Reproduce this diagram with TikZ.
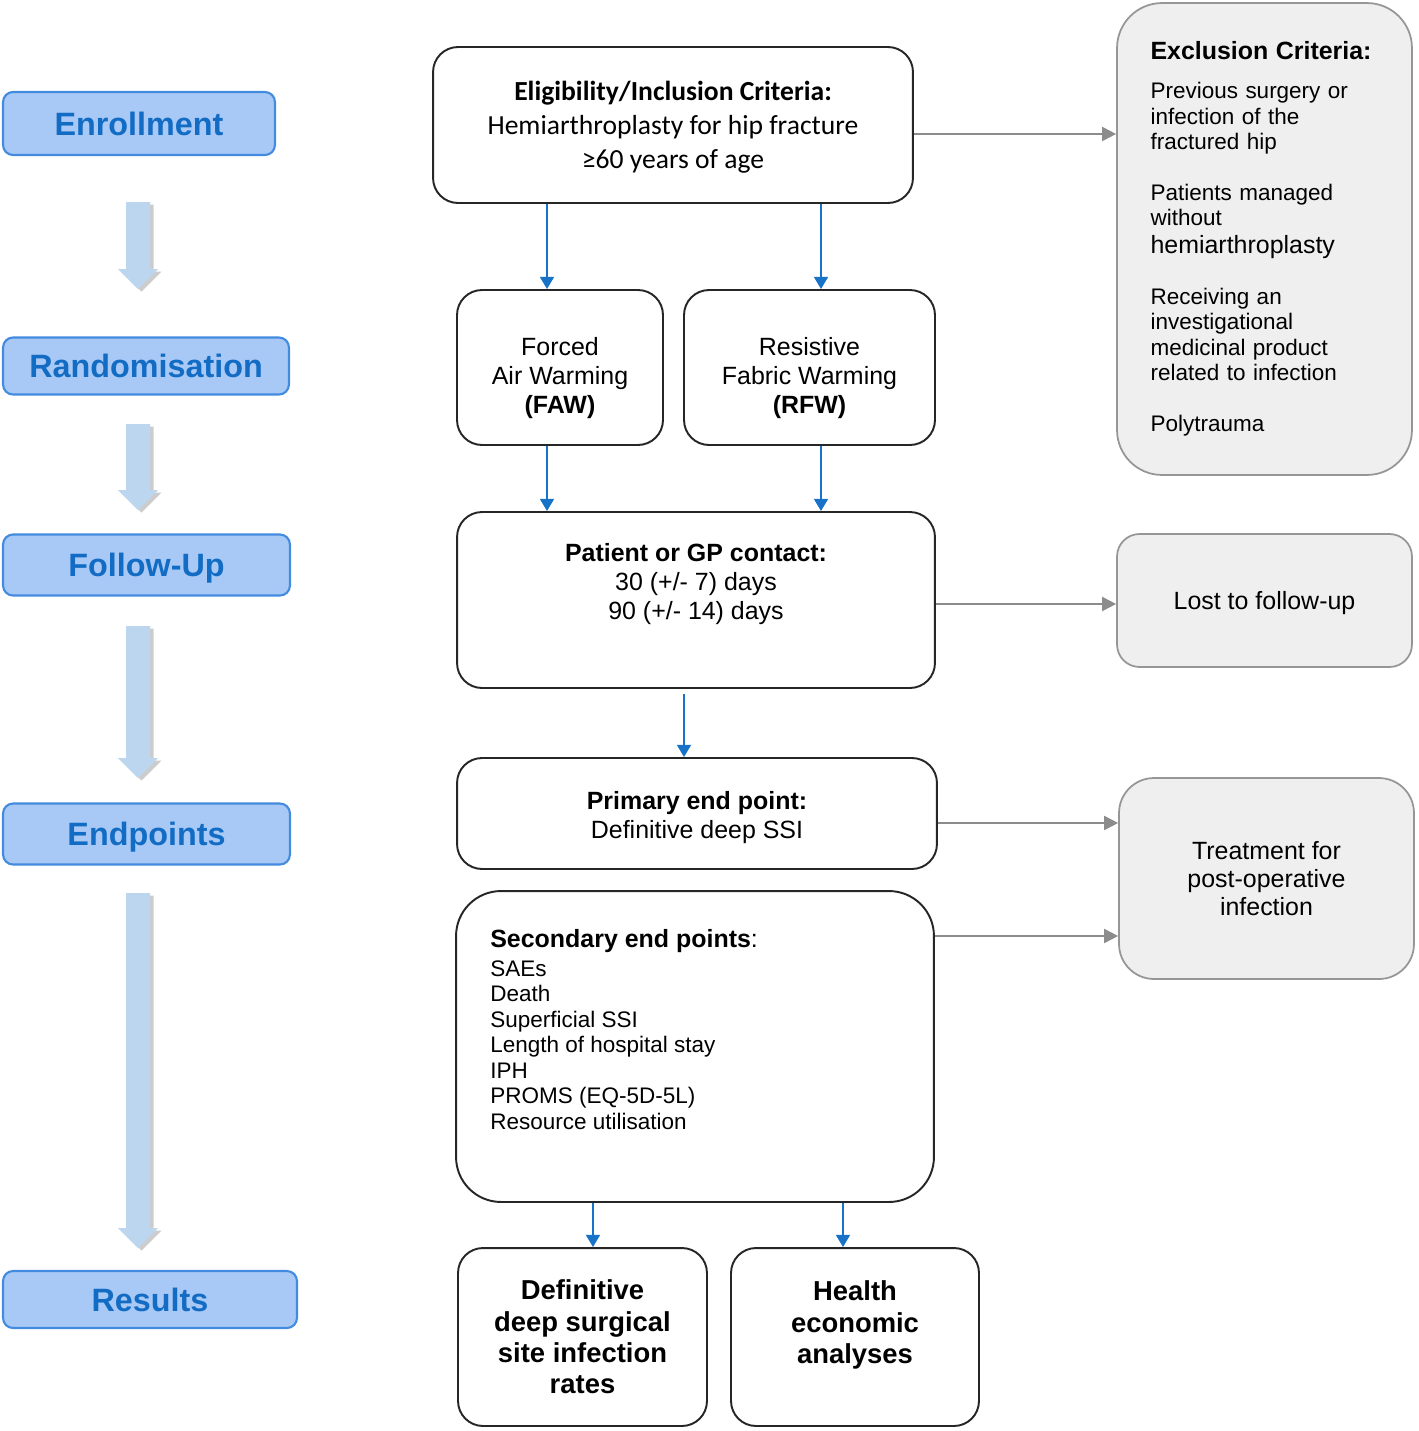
\documentclass[tikz,border=0pt]{standalone}
\usepackage{fontspec}
\setmainfont{Liberation Sans}
\newfontfamily\calib{Carlito}
\usetikzlibrary{arrows.meta,shadows}

\definecolor{stagefill}{RGB}{168,200,246}
\definecolor{stageline}{RGB}{66,139,222}
\definecolor{stagetext}{RGB}{18,108,196}
\definecolor{arrowblue}{RGB}{189,214,239}
\definecolor{flowblue}{RGB}{22,115,200}
\definecolor{greyfill}{RGB}{239,239,239}
\definecolor{greyline}{RGB}{150,150,150}
\definecolor{sidegrey}{RGB}{140,140,140}

\tikzset{
  stage/.style={draw=stageline, line width=1.2pt, fill=stagefill, rounded corners=0.2cm,
    inner sep=0pt, text height=13.2pt, text depth=0pt, text=stagetext,
    font=\fontsize{18.4}{22}\selectfont\bfseries},
  mainbox/.style={draw=black!85, line width=1.1pt, rounded corners=0.5cm, inner sep=0pt,
    align=center, font=\fontsize{14.2}{16.5}\selectfont},
  boxtext/.style={align=center, inner sep=0pt, font=\fontsize{14.2}{16.5}\selectfont},
  greybox/.style={draw=greyline, line width=1pt, fill=greyfill, inner sep=0pt,
    align=center, font=\fontsize{14.2}{16}\selectfont},
  flow/.style={draw=flowblue, line width=1.1pt, -{Triangle[width=8pt,length=7pt]}},
  side/.style={draw=sidegrey, line width=1.1pt, -{Triangle[width=8pt,length=8pt]}},
  downarrow/.style={fill=arrowblue, draw=none,
    drop shadow={shadow xshift=2pt, shadow yshift=-1.5pt, opacity=0.4}}
}

\begin{document}
\begin{tikzpicture}[x=0.02cm, y=-0.02cm]
\useasboundingbox (0,0) rectangle (1418,1431);

% stages on the left
\node[stage, minimum width=5.44cm, minimum height=1.26cm] (enrol) at (139,123.5) {Enrollment};
\node[stage, minimum width=5.72cm, minimum height=1.14cm] (rand) at (146,366) {Randomisation};
\node[stage, minimum width=5.74cm, minimum height=1.22cm] (follow) at (146.5,565) {Follow-Up};
\node[stage, minimum width=5.74cm, minimum height=1.22cm] (endp) at (146.5,834) {Endpoints};
\node[stage, minimum width=5.88cm, minimum height=1.14cm] (results) at (150,1299.5) {Results};

\foreach \top/\tip in {202/289, 424/510, 626/778, 893/1248} {
\path[downarrow] (126,\top) -- (150,\top) -- (150,\tip-20) -- (158,\tip-20)
  -- (138,\tip) -- (118,\tip-20) -- (126,\tip-20) -- cycle;
}

% middle column
\node[mainbox, minimum width=9.6cm, minimum height=3.12cm] (elig) at (673,125) {};
\node[boxtext, font=\calib\fontsize{15.7}{19.3}\selectfont] (eligtext) at (673,127)
  {\textbf{Eligibility/Inclusion Criteria:}\\Hemiarthroplasty for hip fracture\\≥60 years of age};
\node[mainbox, minimum width=4.12cm, minimum height=3.1cm] (faw) at (560,367.5) {};
\node[boxtext] (fawtext) at (560,378.5) {Forced\\Air Warming\\\textbf{(FAW)}};
\node[mainbox, minimum width=5.02cm, minimum height=3.1cm] (rfw) at (809.5,367.5) {};
\node[boxtext] (rfwtext) at (809.5,378.5) {Resistive\\Fabric Warming\\\textbf{(RFW)}};
\node[mainbox, minimum width=9.56cm, minimum height=3.52cm] (contact) at (696,600) {};
\node[boxtext] (contacttext) at (696,584)
  {\textbf{Patient or GP contact:}\\30 (+/- 7) days\\90 (+/- 14) days};
\node[mainbox, minimum width=9.6cm, minimum height=2.22cm] (primary) at (697,813.5) {};
\node[boxtext] (primarytext) at (697,818) {\textbf{Primary end point:}\\Definitive deep SSI};
\node[mainbox, rounded corners=0.9cm, minimum width=9.56cm, minimum height=6.22cm] (second) at (695,1046.5) {};
\node[anchor=north west, align=left, inner sep=0pt, font=\fontsize{12.8}{14.5}\selectfont] (sectext) at (490,929)
  {{\fontsize{14.2}{14.5}\selectfont\textbf{Secondary end points}:}\\[1.9pt]
   SAEs\\Death\\Superficial SSI\\Length of hospital stay\\IPH\\PROMS (EQ-5D-5L)\\Resource utilisation};
\node[mainbox, minimum width=4.98cm, minimum height=3.56cm,
  font=\fontsize{15.6}{17.9}\selectfont\bfseries] (ssi) at (582.5,1337)
  {Definitive\\deep surgical\\site infection\\rates};
\node[mainbox, minimum width=4.96cm, minimum height=3.56cm] (econ) at (855,1337) {};
\node[boxtext, font=\fontsize{15.6}{17.9}\selectfont\bfseries] (econtext) at (855,1325)
  {Health\\economic\\analyses};

% right column
\node[greybox, rounded corners=0.9cm, minimum width=5.9cm, minimum height=9.44cm,
  align=left, text width=4.56cm, font=\fontsize{12.8}{14.5}\selectfont] (excl) at (1264.5,239)
  {{\fontsize{14.2}{14.5}\selectfont\bfseries Exclusion Criteria:}\\[7.6pt]
   Previous surgery or\\infection of the\\fractured hip\\[14.4pt]
   Patients managed\\without\\[1.4pt]{\fontsize{14.2}{14.5}\selectfont hemiarthroplasty}\\[14.4pt]
   Receiving an\\investigational\\medicinal product\\related to infection\\[14.4pt]
   Polytrauma};
\node[greybox, rounded corners=0.45cm, minimum width=5.9cm, minimum height=2.66cm,
  text height=10.2pt, text depth=0pt] (lost) at (1264.5,600.5) {Lost to follow-up};
\node[greybox, rounded corners=0.7cm, minimum width=5.9cm, minimum height=4.02cm] (treat) at (1266.5,878.5)
  {Treatment for\\post-operative\\infection};

% connectors
\draw[flow] (elig.south -| 547,0) -- (faw.north -| 547,0);
\draw[flow] (elig.south -| 821,0) -- (rfw.north -| 821,0);
\draw[flow] (faw.south -| 547,0) -- (contact.north -| 547,0);
\draw[flow] (rfw.south -| 821,0) -- (contact.north -| 821,0);
\draw[flow, shorten <=0.1cm] (contact.south -| 684,0) -- (primary.north -| 684,0);
\draw[flow] (second.south -| 593,0) -- (ssi.north -| 593,0);
\draw[flow] (second.south -| 843,0) -- (econ.north -| 843,0);

\draw[side] (elig.east |- 0,134) -- (excl.west |- 0,134);
\draw[side] (contact.east |- 0,604) -- (lost.west |- 0,604);
\draw[side] (primary.east |- 0,823) -- (treat.west |- 0,823);
\draw[side] (second.east |- 0,936) -- (treat.west |- 0,936);

\end{tikzpicture}
\end{document}
